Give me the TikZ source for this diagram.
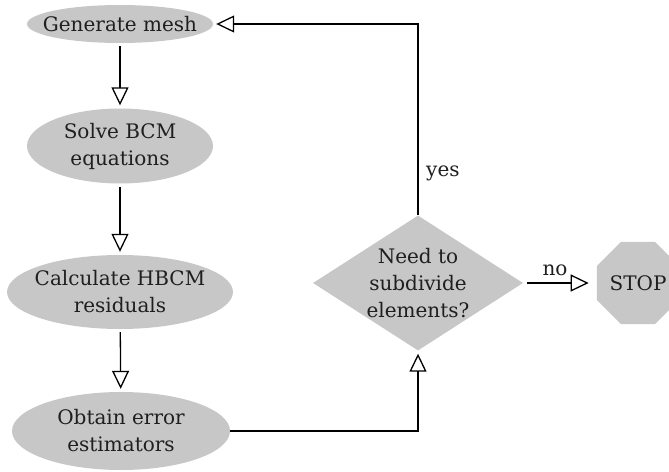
\documentclass[tikz,border=0pt]{standalone}
\usepackage{fontspec}
\setmainfont{DejaVu Serif}
\usetikzlibrary{shapes.geometric,arrows.meta}
\begin{document}
\begin{tikzpicture}%
	[x={(1pt, 0pt)},
	y={(0pt, -1pt)},
	boxfill/.style={fill=black!22, draw=none, inner sep=0pt},
	proc/.style={boxfill, ellipse},
	decision/.style={boxfill, diamond},
	stopbox/.style={boxfill, regular polygon, regular polygon sides=8, minimum size=89pt},
	txt/.style={font=\fontsize{20}{27}\selectfont, text=black!88, align=center, inner sep=0pt},
	flow/.style={line width=1.3pt, -{Triangle[open, length=18pt, width=17pt]}, shorten <=3pt, shorten >=3pt}]
%
\useasboundingbox (0,0) rectangle (669,471);
%%
%% Drawing the steps
%%
\node[proc, minimum width=186pt, minimum height=38pt, label={[txt]center:Generate mesh}] (gen) at (120,24) {};
\node[proc, minimum width=186pt, minimum height=75pt, label={[txt]center:Solve BCM\\equations}] (solve) at (120,146) {};
\node[proc, minimum width=226pt, minimum height=74pt, label={[txt]center:Calculate HBCM\\residuals}] (calc) at (120,292) {};
\node[proc, minimum width=218pt, minimum height=78pt, label={[txt]center:Obtain error\\estimators}] (obtain) at (121,431) {};
\node[decision, minimum width=210pt, minimum height=135pt, label={[txt]center:Need to\\subdivide\\elements?}] (need) at (418,283) {};
\node[stopbox, label={[txt]center:STOP}] (stop) at (638,283) {};
%%
%% Drawing the arrows
%%
\draw[flow] (gen) -- (solve);
\draw[flow] (solve) -- (calc);
\draw[flow] (calc) -- (obtain);
\draw[flow, shorten <=0pt] (obtain.east) -| (need.south);
\draw[flow, shorten <=0pt] (need.north) |- (gen.east);
\draw[flow, shorten <=4pt, shorten >=8pt] (need.east) -- (stop.west);
%%
%% Labels
%%
\node[txt, anchor=west] (yes) at (426,173) {yes};
\node[txt, anchor=south] (no) at (555,276) {no};

\end{tikzpicture}
\end{document}
